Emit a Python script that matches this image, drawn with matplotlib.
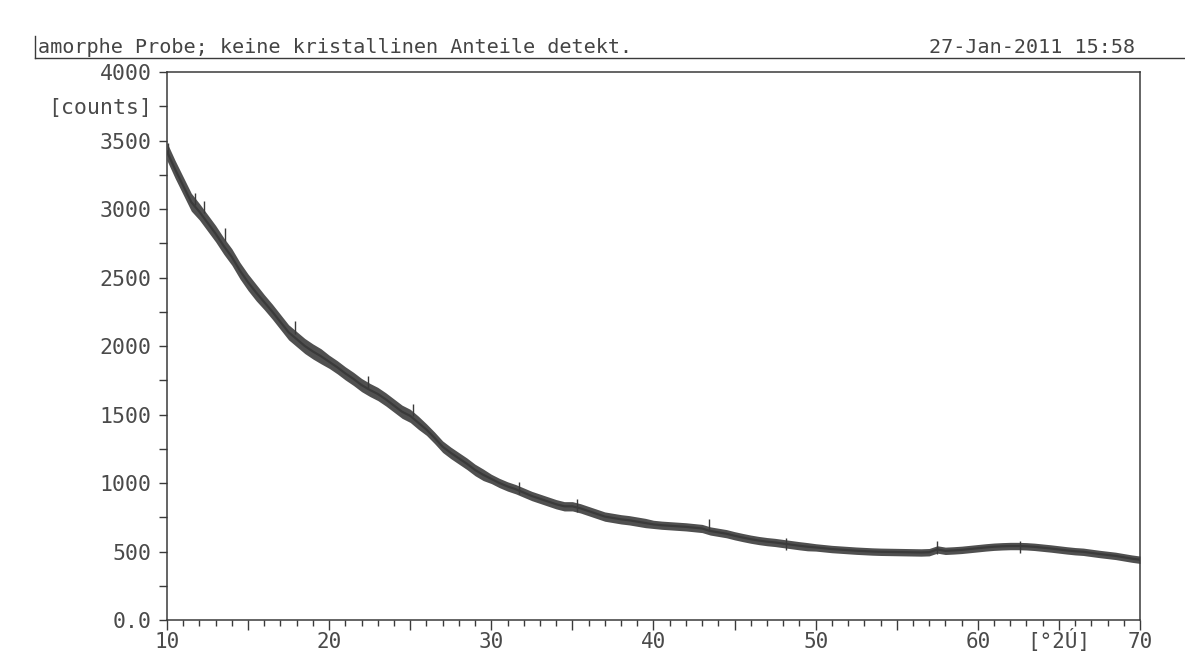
"""XRD scan of an amorphous sample (counts vs. 2-theta), scanned-printout look."""

import matplotlib

matplotlib.use("Agg")
import matplotlib.pyplot as plt  # noqa: E402
from matplotlib.lines import Line2D  # noqa: E402
from matplotlib.ticker import FixedLocator, MultipleLocator  # noqa: E402

plt.rcParams.update({"font.family": ["DejaVu Sans Mono", "DejaVu Sans"]})

# --- data -----------------------------------------------------------------
two_theta = [10.0 + 0.5 * i for i in range(121)]
counts = [
    3420, 3290, 3170, 3050, 2980, 2900, 2820, 2730, 2650, 2550,   # 10.0-14.5
    2465, 2390, 2320, 2250, 2175, 2100, 2050, 2000, 1960, 1925,   # 15.0-19.5
    1885, 1845, 1800, 1760, 1715, 1680, 1650, 1610, 1565, 1520,   # 20.0-24.5
    1490, 1440, 1390, 1330, 1265, 1220, 1180, 1140, 1095, 1060,   # 25.0-29.5
    1030, 1000, 975, 955, 930, 905, 885, 865, 845, 830,           # 30.0-34.5
    830, 815, 795, 775, 755, 745, 735, 728, 718, 708,             # 35.0-39.5
    698, 692, 688, 684, 680, 674, 668, 650, 640, 630,             # 40.0-44.5
    615, 602, 590, 580, 572, 566, 558, 550, 542, 535,             # 45.0-49.5
    530, 524, 518, 514, 510, 506, 503, 500, 498, 497,             # 50.0-54.5
    496, 495, 494, 493, 495, 515, 505, 508, 512, 518,             # 55.0-59.5
    524, 530, 535, 538, 540, 540, 538, 534, 528, 522,             # 60.0-64.5
    515, 508, 502, 498, 490, 482, 475, 468, 458, 448,             # 65.0-69.5
    440,                                                          # 70.0
]
# half-width of the counting-noise band around the trace
spread = (
    [65] * 4 + [60] * 8 + [55] * 8 + [48] * 12 + [42] * 8
    + [34] * 20 + [30] * 20 + [27] * 41
)
# isolated spikes sticking out of the noise band
spike_x = [10.05, 11.7, 12.3, 13.6, 17.9, 22.4, 25.2, 31.7, 35.3, 43.4,
           48.2, 57.5, 62.6]
spike_top = [3480, 3120, 3060, 2860, 2180, 1780, 1580, 1010, 880, 737,
             600, 575, 580]

x_ticks = [10, 20, 30, 40, 50, 60, 65, 70]
x_labels = ["10", "20", "30", "40", "50", "60", "[°2Ú]", "70"]
y_ticks = [0, 500, 1000, 1500, 2000, 2500, 3000, 3500, 3750, 4000]
y_labels = ["0.0", "500", "1000", "1500", "2000", "2500", "3000", "3500",
            "[counts]", "4000"]

title = "amorphe Probe; keine kristallinen Anteile detekt."
stamp = "27-Jan-2011 15:58"

INK = "#3a3a3a"
TXT = "#4a4a4a"

fig = plt.figure(figsize=(11.85, 6.57), dpi=100)
ax = fig.add_axes([0.1409, 0.0563, 0.8211, 0.8341])

lo = [c - s for c, s in zip(counts, spread)]
hi = [c + s for c, s in zip(counts, spread)]
ax.fill_between(two_theta, lo, hi, color="#505050", lw=0)
ax.plot(two_theta, counts, color=INK, lw=1.6)
ax.vlines(spike_x, spike_top, [t - 90 for t in spike_top], color=INK, lw=1.0)

ax.set_xlim(10, 70)
ax.set_ylim(0, 4000)

ax.xaxis.set_major_locator(MultipleLocator(5))
ax.xaxis.set_minor_locator(MultipleLocator(1))
ax.set_xticklabels([])
ax.yaxis.set_major_locator(MultipleLocator(250))
ax.set_yticklabels([])

# labels sit on their own (subset) positions
ax2x = ax.secondary_xaxis("bottom")
ax2x.xaxis.set_major_locator(FixedLocator(x_ticks))
ax2x.set_xticklabels(x_labels)
ax2x.tick_params(length=0, pad=20, labelsize=15, labelcolor=TXT)
for lab in ax2x.get_xticklabels():
    lab.set_verticalalignment("baseline")
ax2x.spines["bottom"].set_visible(False)
ax2y = ax.secondary_yaxis("left")
ax2y.yaxis.set_major_locator(FixedLocator(y_ticks))
ax2y.set_yticklabels(y_labels)
ax2y.tick_params(length=0, pad=11, labelsize=15.5, labelcolor=TXT)
ax2y.spines["left"].set_visible(False)

ax.tick_params(axis="x", which="major", direction="out", length=7.5,
               width=1.0, color=INK)
ax.tick_params(axis="x", which="minor", direction="out", length=4.3,
               width=1.0, color=INK)
ax.tick_params(axis="y", direction="out", length=5.5, width=1.0, color=INK)
for sp in ax.spines.values():
    sp.set_color(INK)
    sp.set_linewidth(1.1)

# header: comment line left, date right, rule underneath
fig.text(0.032, 1 - 53 / 657, title, fontsize=14.5, color="#444444",
         ha="left", va="baseline")
fig.text(0.958, 1 - 53 / 657, stamp, fontsize=14.5, color="#444444",
         ha="right", va="baseline")
fig.add_artist(Line2D([0.0295, 1.0], [1 - 58 / 657, 1 - 58 / 657],
                      color=INK, lw=1.0))
fig.add_artist(Line2D([0.0295, 0.0295], [1 - 58 / 657, 1 - 36 / 657],
                      color=INK, lw=1.0))

fig.savefig("out.png", dpi=100)
